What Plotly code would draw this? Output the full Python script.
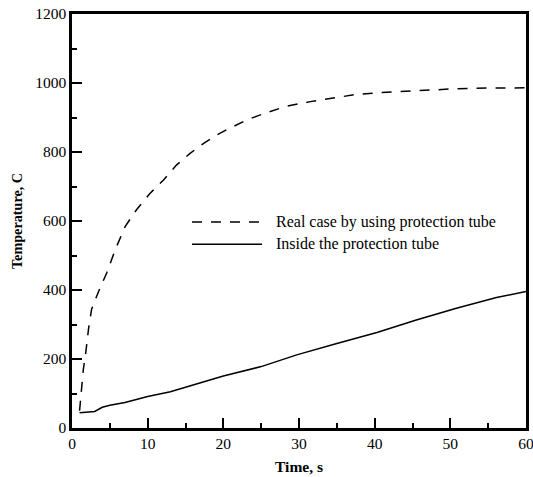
import plotly.graph_objects as go

# Real case by using protection tube (dashed)
t_real = [1.0, 1.2, 1.5, 1.8, 2.2, 2.6, 3.5, 4.6, 5.7, 7.0, 8.5, 10.3, 12.1, 13.8, 15.6,
          17.4, 19.1, 20.4, 23.1, 25.7, 28.4, 31.5, 34.5, 37.6, 40.7, 43.8, 46.9, 50.4,
          53.5, 56.6, 60.0]
T_real = [50, 100, 170, 215, 290, 345, 395, 450, 516, 583, 632, 680, 719, 762, 796,
          825, 849, 864, 893, 914, 933, 946, 957, 967, 972, 976, 980, 983,
          985, 986, 986]

# Inside the protection tube (solid)
t_in = [1, 3, 4, 5, 7, 10, 13, 17.4, 20, 25, 29.7, 35, 40.3, 45.5, 50.8, 56.1, 60]
T_in = [44, 48, 60, 66, 74, 91, 105, 134, 151, 178, 212, 245, 277, 313, 347, 378, 396]

x_ticks = [0, 10, 20, 30, 40, 50, 60]
y_ticks = [0, 200, 400, 600, 800, 1000, 1200]

series_names = ["Real case by using protection tube", "Inside the protection tube"]

FONT = "Liberation Serif, Times New Roman, Times, serif"

fig = go.Figure()
fig.add_trace(go.Scatter(x=t_real, y=T_real, mode="lines", name=series_names[0],
                         line=dict(color="black", width=1.5, dash="10px,9px")))
fig.add_trace(go.Scatter(x=t_in, y=T_in, mode="lines", name=series_names[1],
                         line=dict(color="black", width=1.5)))

axis_common = dict(
    showgrid=False, zeroline=False, showline=True, linecolor="black", linewidth=2.5,
    mirror=True, ticks="inside", ticklen=10, tickwidth=2, tickcolor="black",
    tickfont=dict(family=FONT, size=15.5, color="black"), automargin=False,
    ticklabeloverflow="allow",
)

fig.update_xaxes(range=[0, 60], tickvals=x_ticks,
                 minor=dict(ticks="inside", ticklen=5, tickwidth=1.5, tickcolor="black", dtick=5),
                 title=dict(text="<b>Time, s</b>", font=dict(family=FONT, size=15.5, color="black"),
                            standoff=10),
                 **axis_common)
fig.update_yaxes(range=[0, 1200], tickvals=y_ticks,
                 minor=dict(ticks="inside", ticklen=5, tickwidth=1.5, tickcolor="black", dtick=100),
                 title=dict(text="<b>Temperature, C</b>", font=dict(family=FONT, size=14.2, color="black"),
                            standoff=10),
                 **axis_common)

# legend drawn manually inside the plot area (no box)
leg_rows = [(0.4976, "10px,9px"), (0.4437, "solid")]
for (yp, dash), name in zip(leg_rows, series_names):
    fig.add_shape(type="line", xref="paper", yref="paper", x0=0.2643, x1=0.4185, y0=yp, y1=yp,
                  line=dict(color="black", width=1.5, dash=dash))
    fig.add_annotation(xref="paper", yref="paper", x=0.4449, y=yp, text=name, showarrow=False,
                       xanchor="left", yanchor="middle",
                       font=dict(family=FONT, size=16, color="black"))

fig.update_layout(
    width=533, height=477,
    margin=dict(l=72, r=7, t=14, b=49),
    paper_bgcolor="white", plot_bgcolor="white",
    showlegend=False,
)

fig.write_html(
    "out.html",
    config={"displayModeBar": False},
    post_script=("document.documentElement.style.overflow='hidden';"
                 "document.body.style.margin='0';document.body.style.overflow='hidden';"),
)
